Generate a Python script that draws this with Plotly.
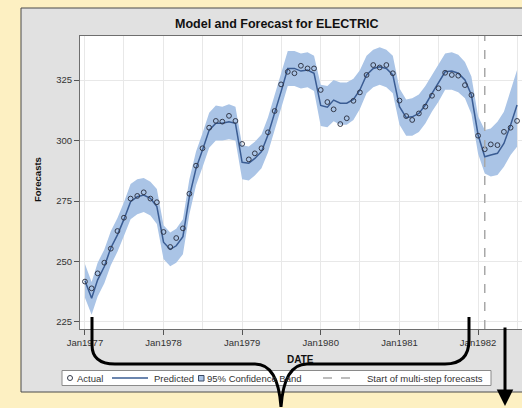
import pandas as pd
import plotly.graph_objects as go

# ---------------- data ----------------
dates = pd.date_range("1977-01-01", periods=67, freq="MS")

actual = [241.7, 238.9, 245.1, 249.5, 255.3, 262.6, 268.1, 276.0, 277.1, 278.6, 276.0, 274.5,
          262.2, 256.0, 259.7, 263.7, 278.0, 289.6, 296.8, 305.3, 308.1, 307.8, 310.2, 308.1,
          298.6, 292.2, 294.7, 296.8, 303.4, 312.2, 323.2, 328.4, 327.8, 330.9, 329.8, 329.8,
          320.9, 315.9, 312.9, 306.8, 309.2, 316.4, 319.9, 327.1, 331.2, 330.2, 331.2, 327.8,
          316.5, 310.1, 308.5, 311.2, 314.0, 318.5, 321.6, 328.0, 327.1, 326.8, 322.9, 318.8,
          302.0, 296.4, 298.4, 298.1, 303.6, 305.3, 308.1]

predicted = [242.0, 234.8, 242.4, 247.9, 255.6, 261.0, 267.4, 274.7, 276.8, 277.5, 276.1, 272.7,
             258.0, 255.0, 256.5, 260.3, 276.8, 288.5, 296.1, 304.3, 307.1, 307.1, 307.8, 307.1,
             291.0, 290.6, 292.6, 295.4, 302.3, 311.2, 320.2, 329.8, 329.8, 328.7, 329.1, 327.8,
             314.5, 313.8, 316.7, 315.4, 315.4, 317.0, 320.9, 327.1, 329.8, 330.5, 329.8, 327.1,
             314.0, 309.5, 309.8, 311.2, 314.7, 319.5, 323.6, 328.4, 328.7, 327.8, 325.0, 318.8,
             302.3, 293.3, 294.0, 294.7, 298.8, 306.4, 314.7]

lower = [235.0, 228.0, 235.5, 241.0, 248.5, 254.0, 260.5, 267.5, 269.5, 270.5, 269.0, 265.5,
         251.0, 248.0, 249.5, 253.0, 269.5, 281.5, 289.0, 297.0, 300.0, 300.0, 300.5, 300.0,
         284.0, 283.5, 285.5, 288.5, 295.0, 304.0, 313.0, 322.5, 322.5, 321.5, 322.0, 320.5,
         306.0, 305.5, 308.0, 306.5, 306.5, 308.5, 313.0, 319.5, 322.0, 323.0, 322.0, 319.5,
         306.5, 302.0, 302.0, 303.5, 307.0, 312.0, 316.0, 321.0, 321.0, 320.0, 317.5, 311.0,
         294.5, 286.4, 285.1, 285.7, 289.2, 294.0, 297.4]

upper = [249.0, 241.5, 249.5, 255.0, 262.5, 268.0, 274.5, 282.0, 284.0, 284.5, 283.0, 280.0,
         265.0, 262.0, 263.5, 267.5, 284.0, 295.5, 303.0, 311.5, 314.5, 314.0, 315.0, 314.0,
         298.0, 297.5, 299.5, 302.5, 309.5, 318.5, 327.5, 337.0, 337.0, 336.0, 336.5, 335.0,
         323.0, 322.5, 325.0, 324.0, 324.0, 325.5, 329.0, 335.0, 337.5, 338.5, 337.5, 335.0,
         321.5, 317.0, 317.5, 319.0, 322.5, 327.0, 331.5, 336.0, 336.5, 335.5, 332.5, 326.5,
         310.0, 304.3, 305.0, 307.8, 311.9, 320.2, 329.1]

tick_dates = ["1977-01-01", "1978-01-01", "1979-01-01", "1980-01-01", "1981-01-01", "1982-01-01"]
tick_labels = ["Jan1977", "Jan1978", "Jan1979", "Jan1980", "Jan1981", "Jan1982"]
minor_dates = ["1977-07-01", "1978-07-01", "1979-07-01", "1980-07-01", "1981-07-01", "1982-07-01"]
y_ticks = [225, 250, 275, 300, 325]
forecast_start = "1982-02-01"

title_text = "Model and Forecast for ELECTRIC"

# ---------------- styling ----------------
W, H = 522, 408
ML, MR, MT, MB = 80, 0, 36, 79
PW, PH = W - ML - MR, H - MT - MB


def px(x):
    return (x - ML) / PW


def py(y):
    return (H - MB - y) / PH


BG = "#FDF0C2"
BAND = "#AAC4E6"
LINE = "#3A5C93"
MARK = "#33394A"
FONT = "Liberation Sans, Arial, sans-serif"
TXT = "#333333"

fig = go.Figure()
fig.add_trace(go.Scatter(x=dates, y=lower, mode="lines", line=dict(width=0, color=BAND),
                         showlegend=False, hoverinfo="skip"))
fig.add_trace(go.Scatter(x=dates, y=upper, mode="lines", line=dict(width=0, color=BAND),
                         fill="tonexty", fillcolor=BAND, showlegend=False, hoverinfo="skip"))
fig.add_trace(go.Scatter(x=dates, y=predicted, mode="lines", line=dict(width=1.5, color=LINE),
                         showlegend=False))
fig.add_trace(go.Scatter(x=dates, y=actual, mode="markers",
                         marker=dict(symbol="circle-open", size=4.8, color=MARK, line=dict(width=1, color=MARK)),
                         showlegend=False))

shapes = [
    # gray chart panel
    dict(type="rect", xref="paper", yref="paper", x0=px(21), x1=px(560), y0=py(392), y1=py(8),
         fillcolor="#E1E1E1", line=dict(color="#4A4A4A", width=1), layer="below"),
    # white plot area
    dict(type="rect", xref="paper", yref="paper", x0=0, x1=1.2, y0=0, y1=1,
         fillcolor="#FFFFFF", line=dict(width=0), layer="below"),
    # start of multi-step forecasts
    dict(type="line", xref="x", yref="paper", x0=forecast_start, x1=forecast_start, y0=0, y1=1,
         line=dict(color="#A8A8A8", width=1.5, dash="dash")),
    # legend box
    dict(type="rect", xref="paper", yref="paper", x0=px(62), x1=px(491), y0=py(385.5), y1=py(370.5),
         fillcolor="#FFFFFF", line=dict(color="#8A8A8A", width=1)),
    dict(type="circle", xref="paper", yref="paper", x0=px(67.5), x1=px(72.5), y0=py(380.5), y1=py(375.5),
         line=dict(color=MARK, width=1)),
    dict(type="line", xref="paper", yref="paper", x0=px(112), x1=px(148), y0=py(378), y1=py(378),
         line=dict(color=LINE, width=1.5)),
    dict(type="rect", xref="paper", yref="paper", x0=px(198.5), x1=px(204), y0=py(381), y1=py(375.5),
         fillcolor=BAND, line=dict(color="#3A4A66", width=1)),
    dict(type="line", xref="paper", yref="paper", x0=px(323), x1=px(359), y0=py(378), y1=py(378),
         line=dict(color="#A8A8A8", width=1.5, dash="dash")),
]

# black overlay brace
brace_pts = [(92, 317), (92, 345), (92, 364), (115, 364), (255, 364), (278, 364), (281, 407),
             (284, 364), (307, 364), (445, 364), (469, 364), (469, 340), (469, 317)]
P = [(px(a), py(b)) for a, b in brace_pts]
path = (f"M {P[0][0]},{P[0][1]} L {P[1][0]},{P[1][1]} Q {P[2][0]},{P[2][1]} {P[3][0]},{P[3][1]} "
        f"L {P[4][0]},{P[4][1]} Q {P[5][0]},{P[5][1]} {P[6][0]},{P[6][1]} "
        f"Q {P[7][0]},{P[7][1]} {P[8][0]},{P[8][1]} L {P[9][0]},{P[9][1]} "
        f"Q {P[10][0]},{P[10][1]} {P[11][0]},{P[11][1]} L {P[12][0]},{P[12][1]}")
shapes.append(dict(type="path", xref="paper", yref="paper", path=path,
                   line=dict(color="#000000", width=3)))

annotations = [
    dict(text="<b>" + title_text + "</b>", x=px(276.5), y=py(24), xref="paper", yref="paper",
         showarrow=False, xanchor="center", yanchor="middle", font=dict(size=12.5, color="#111", family=FONT)),
    dict(text="<b>Forecasts</b>", x=px(37), y=py(180), xref="paper", yref="paper", textangle=-90,
         showarrow=False, xanchor="center", yanchor="middle", font=dict(size=9.5, color="#111", family=FONT)),
    dict(text="<b>DATE</b>", x=px(300), y=py(359), xref="paper", yref="paper",
         showarrow=False, xanchor="center", yanchor="middle", font=dict(size=10, color="#111", family=FONT)),
    dict(text="Actual", x=px(75), y=py(378), xref="paper", yref="paper", showarrow=False,
         xanchor="left", yanchor="middle", font=dict(size=9.5, color=TXT, family=FONT)),
    dict(text="Predicted", x=px(152), y=py(378), xref="paper", yref="paper", showarrow=False,
         xanchor="left", yanchor="middle", font=dict(size=9.5, color=TXT, family=FONT)),
    dict(text="95% Confidence Band", x=px(205), y=py(378), xref="paper", yref="paper", showarrow=False,
         xanchor="left", yanchor="middle", font=dict(size=9.5, color=TXT, family=FONT)),
    dict(text="Start of multi-step forecasts", x=px(365), y=py(378), xref="paper", yref="paper",
         showarrow=False, xanchor="left", yanchor="middle", font=dict(size=9.5, color=TXT, family=FONT)),
    # black overlay arrow
    dict(text="", x=px(505), y=py(406), xref="paper", yref="paper", showarrow=True,
         ax=0, ay=-80, arrowhead=2, arrowsize=1.1, arrowwidth=3, arrowcolor="#000000"),
]

fig.update_layout(
    width=W, height=H,
    margin=dict(l=ML, r=MR, t=MT, b=MB, pad=0),
    paper_bgcolor=BG,
    plot_bgcolor="#FFFFFF",
    showlegend=False,
    shapes=shapes,
    annotations=annotations,
    font=dict(family=FONT, color=TXT),
    xaxis=dict(type="date", range=["1976-12-09", "1982-07-24"],
               tickmode="array", tickvals=tick_dates, ticktext=tick_labels,
               ticks="outside", ticklen=5, tickcolor="#555", tickfont=dict(size=9.5, color=TXT),
               showline=True, linecolor="#6E6E6E", linewidth=1, mirror=True,
               showgrid=True, gridcolor="#E8E8E8", gridwidth=1, zeroline=False,
               minor=dict(tickmode="array", tickvals=minor_dates, showgrid=True, gridcolor="#E8E8E8")),
    yaxis=dict(range=[222.1, 343.2], tickmode="array", tickvals=y_ticks,
               ticks="outside", ticklen=5, tickcolor="#555", tickfont=dict(size=9.5, color=TXT),
               showline=True, linecolor="#6E6E6E", linewidth=1,
               showgrid=True, gridcolor="#E8E8E8", gridwidth=1, zeroline=False),
)

fig.write_html("out.html", config={"displayModeBar": False},
               post_script="document.body.style.margin='0';document.body.style.background='" + BG + "';"
                           "document.body.style.overflow='hidden';")
